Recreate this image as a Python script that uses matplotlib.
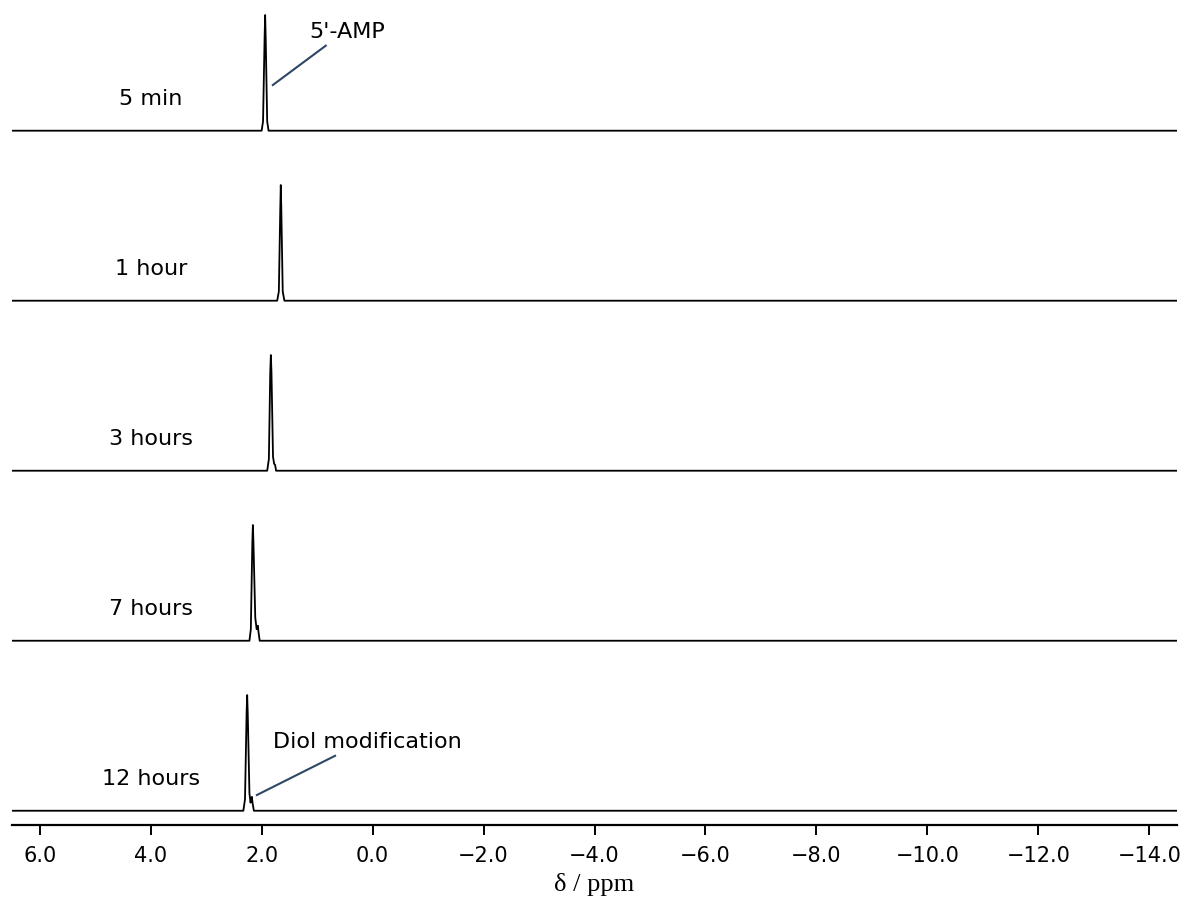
import matplotlib.pyplot as plt
import numpy as np
from matplotlib.ticker import FuncFormatter

# Spectra (ppm, normalised intensity), top to bottom
labels = ["5 min", "1 hour", "3 hours", "7 hours", "12 hours"]

ppm_5min = [6.5, 2.00, 1.975, 1.947, 1.937, 1.927, 1.90, 1.875, -14.5]
int_5min = [0, 0, 0.08, 0.8, 1.0, 0.8, 0.08, 0, 0]

ppm_1h = [6.5, 1.72, 1.69, 1.664, 1.655, 1.646, 1.62, 1.59, -14.5]
int_1h = [0, 0, 0.08, 0.8, 1.0, 0.8, 0.08, 0, 0]

ppm_3h = [6.5, 1.90, 1.87, 1.845, 1.834, 1.823, 1.795, 1.775, 1.757, 1.74, -14.5]
int_3h = [0, 0, 0.1, 0.85, 1.0, 0.85, 0.12, 0.06, 0.05, 0, 0]

ppm_7h = [6.5, 2.22, 2.195, 2.168, 2.158, 2.148, 2.115, 2.09, 2.075, 2.068, 2.058, 2.035, -14.5]
int_7h = [0, 0, 0.1, 0.85, 1.0, 0.85, 0.2, 0.1, 0.12, 0.13, 0.08, 0, 0]

ppm_12h = [6.5, 2.33, 2.30, 2.271, 2.261, 2.251, 2.22, 2.20, 2.185, 2.176, 2.165, 2.14, -14.5]
int_12h = [0, 0, 0.1, 0.85, 1.0, 0.85, 0.15, 0.07, 0.11, 0.12, 0.07, 0, 0]

spectra = [(ppm_5min, int_5min), (ppm_1h, int_1h), (ppm_3h, int_3h),
           (ppm_7h, int_7h), (ppm_12h, int_12h)]

step = 1.47  # vertical offset between traces
n = len(spectra)

fig = plt.figure(figsize=(11.89, 9.01), dpi=100)
ax = fig.add_axes([0.0101, 0.084, 0.9798, 0.916])

for i, (ppm, inten) in enumerate(spectra):
    off = (n - 1 - i) * step
    ax.plot(ppm, np.array(inten) + off, color="black", lw=1.3)
    ax.text(4.0, off + 0.22, labels[i], ha="center", va="baseline", fontsize=16)

# annotations
ann_color = "#2f4565"
top_off = (n - 1) * step
ax.plot([1.798, 0.844], [top_off + 0.395, top_off + 0.735], color=ann_color, lw=1.5)
ax.text(0.45, top_off + 0.80, "5'-AMP", ha="center", va="baseline", fontsize=16)

ax.plot([2.086, 0.677], [0.136, 0.475], color=ann_color, lw=1.5)
ax.text(0.09, 0.542, "Diol modification", ha="center", va="baseline", fontsize=16)

ax.set_xlim(6.5, -14.5)
ax.set_ylim(-0.126, top_off + 1.13)
ax.set_xticks(np.arange(6, -15, -2))
ax.xaxis.set_major_formatter(FuncFormatter(lambda v, p: f"{v:.1f}".replace("-", "\u2212")))
ax.tick_params(axis="x", labelsize=15, length=7, width=1.4, pad=8)
ax.set_yticks([])
for s in ["top", "left", "right"]:
    ax.spines[s].set_visible(False)
ax.spines["bottom"].set_linewidth(1.6)
ax.set_xlabel("δ / ppm", fontsize=19, family="Liberation Serif", labelpad=5)

fig.savefig("out.png", dpi=100)
